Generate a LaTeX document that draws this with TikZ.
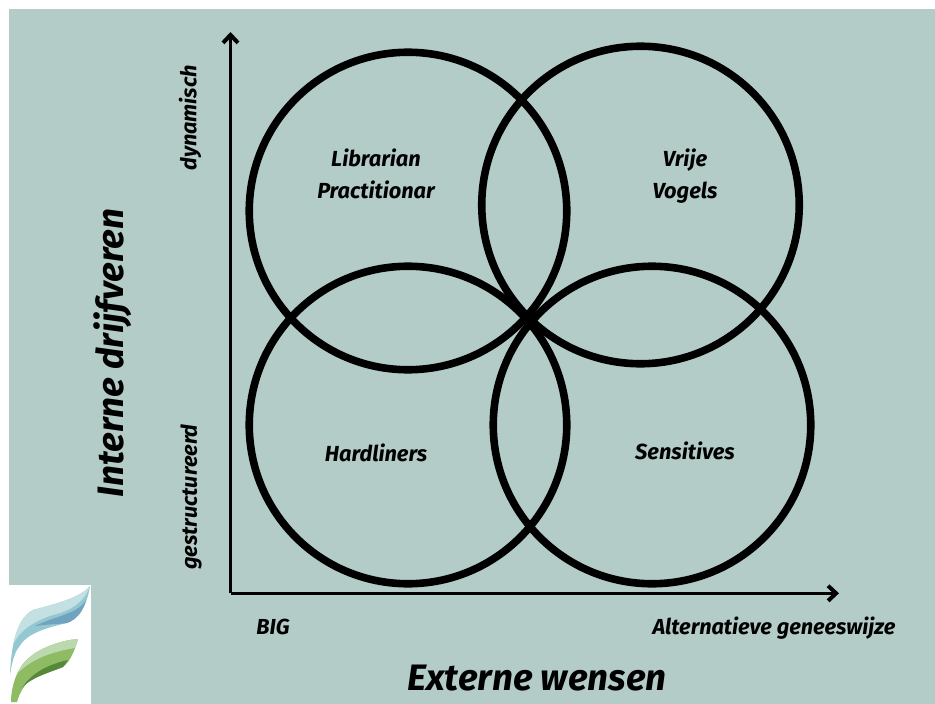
\documentclass[tikz,border=0pt]{standalone}
\usepackage{fontspec}
\setmainfont[Ligatures=NoCommon]{Fira Sans}
\usetikzlibrary{arrows.meta}
\definecolor{bgc}{HTML}{B3CCC8}
\definecolor{fa}{HTML}{C4E0E2}
\definecolor{fb}{HTML}{93C8D2}
\definecolor{fc}{HTML}{6FA3C0}
\definecolor{ga}{HTML}{BBD9AE}
\definecolor{gb}{HTML}{8FBB62}
\definecolor{gc}{HTML}{55883A}
\tikzset{
 ring/.style={circle,draw=black,line width=7.6pt,minimum size=317.5pt,inner sep=0pt},
 axis/.style={draw=black,line width=3.2pt,-{Straight Barb[length=8pt,width=15pt,line width=4pt]}},
 quad/.style={font=\fontsize{21.8}{32}\selectfont\bfseries\itshape,align=center,text=black},
 tick/.style={font=\fontsize{21.7}{24}\selectfont\bfseries\itshape,text=black},
 title/.style={font=\fontsize{36.8}{40}\selectfont\bfseries\itshape,text=black},
}
\begin{document}
\begin{tikzpicture}[x=1pt,y=-1pt]
\useasboundingbox (0,0) rectangle (935,704);
\fill[white] (0,0) rectangle (935,704);
\fill[bgc] (9,9) rectangle (935,704);
% logo
\fill[white] (9,585) rectangle (91,704);
\fill[fb] (90,586) .. controls (80,598) and (55,604) .. (33,610) .. controls (17,618) and (11,645) .. (10,675) .. controls (12,660) and (16,650) .. (19,647) .. controls (26,634) and (45,628) .. (67,623) .. controls (80,618) and (87,605) .. (90,586) -- cycle;
\fill[fa] (90,586) .. controls (80,598) and (55,604) .. (33,610) .. controls (22,616) and (16,630) .. (13,645) .. controls (20,628) and (40,618) .. (60,613) .. controls (75,608) and (85,600) .. (90,586) -- cycle;
\fill[fc] (86,600) .. controls (78,614) and (55,616) .. (35,626) .. controls (50,624) and (60,624) .. (67,623) .. controls (76,620) and (83,612) .. (86,600) -- cycle;
\fill[gb] (78,639) .. controls (62,640) and (40,648) .. (30,657) .. controls (18,666) and (11,685) .. (11,702) -- (17,702) .. controls (19,694) and (24,686) .. (27,683) .. controls (34,677) and (50,672) .. (63,667) .. controls (70,662) and (75,650) .. (78,639) -- cycle;
\fill[ga] (78,639) .. controls (62,640) and (40,648) .. (30,657) .. controls (24,662) and (20,668) .. (17,674) .. controls (30,660) and (50,652) .. (75,648) -- cycle;
\fill[gc] (68,660) .. controls (50,664) and (32,672) .. (22,688) .. controls (30,678) and (48,673) .. (63,667) -- cycle;
% axes
\coordinate (origin) at (230.5,593.3);
\coordinate (ytip) at (230.5,32);
\coordinate (xtip) at (839,593.3);
\draw[axis] (origin) -- (ytip);
\draw[axis] (origin) -- (xtip);
% circles
\node[ring] (tl) at (408,211) {};
\node[ring] (tr) at (640.5,205) {};
\node[ring] (bl) at (408,425) {};
\node[ring] (br) at (652,425) {};
% quadrant labels
\node[quad] (lp) at (376,174) {Librarian\\Practitionar};
\node[quad] (vv) at (685,176) {Vrije\\Vogels};
\node[quad] (hl) at (376,453) {Hardliners};
\node[quad] (se) at (685,451) {Sensitives};
% axis labels
\node[tick,rotate=90] (dyn) at (190,118) {dynamisch};
\node[tick,rotate=90] (ges) at (191,497) {gestructureerd};
\node[tick] (big) at (273,627) {BIG};
\node[tick] (alt) at (774,628) {Alternatieve geneeswijze};
\node[title,rotate=90] (int) at (113,353) {Interne drijfveren};
\node[title] (ext) at (537,678) {Externe wensen};
\end{tikzpicture}
\end{document}
